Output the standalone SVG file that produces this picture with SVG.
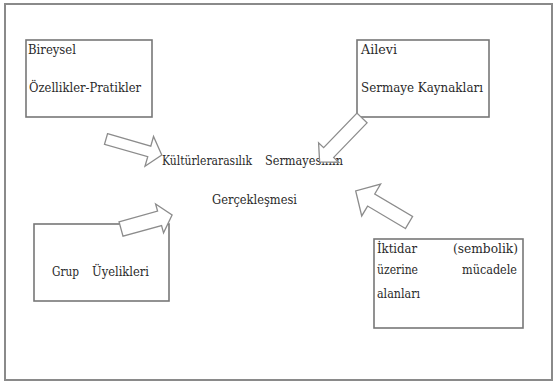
<svg xmlns="http://www.w3.org/2000/svg" width="555" height="382" viewBox="0 0 555 382">
<style>
.frame{fill:#fff;stroke:#8a8a8a;stroke-width:2}
.box{fill:#fff;stroke:#777;stroke-width:1.6}
.arrow{fill:#fff;stroke:#8c8c8c;stroke-width:1.3;stroke-linejoin:miter}
.t{font-family:'DejaVu Serif','Liberation Serif','Times New Roman',Tinos,serif;font-size:13px;fill:#2a2a2a}
</style>
<rect class="frame" x="5" y="4" width="547" height="376"/>
<g id="node-bireysel">
<rect class="box" x="26" y="40" width="126" height="77"/>
<text class="t" x="28" y="54" textLength="48" lengthAdjust="spacingAndGlyphs">Bireysel</text>
<text class="t" x="29" y="92" textLength="112" lengthAdjust="spacingAndGlyphs">Özellikler-Pratikler</text>
</g>
<g id="node-ailevi">
<rect class="box" x="357" y="40" width="132" height="77"/>
<text class="t" x="361" y="54" textLength="36" lengthAdjust="spacingAndGlyphs">Ailevi</text>
<text class="t" x="361" y="92" textLength="122" lengthAdjust="spacingAndGlyphs">Sermaye Kaynakları</text>
</g>
<g id="node-center">
<text class="t" x="162" y="165" textLength="90" lengthAdjust="spacingAndGlyphs">Kültürlerarasılık</text>
<text class="t" x="265" y="165" textLength="78" lengthAdjust="spacingAndGlyphs">Sermayesinin</text>
<text class="t" x="212" y="204" textLength="85" lengthAdjust="spacingAndGlyphs">Gerçekleşmesi</text>
</g>
<g id="node-grup">
<rect class="box" x="34" y="224" width="135" height="77"/>
<text class="t" x="52" y="276" textLength="27" lengthAdjust="spacingAndGlyphs">Grup</text>
<text class="t" x="92" y="276" textLength="57" lengthAdjust="spacingAndGlyphs">Üyelikleri</text>
</g>
<g id="node-iktidar">
<rect class="box" x="374" y="239" width="149" height="89"/>
<text class="t" x="377" y="253" textLength="40" lengthAdjust="spacingAndGlyphs">İktidar</text>
<text class="t" x="453" y="253" textLength="65" lengthAdjust="spacingAndGlyphs">(sembolik)</text>
<text class="t" x="377" y="274" textLength="41" lengthAdjust="spacingAndGlyphs">üzerine</text>
<text class="t" x="462" y="274" textLength="55" lengthAdjust="spacingAndGlyphs">mücadele</text>
<text class="t" x="377" y="298" textLength="43" lengthAdjust="spacingAndGlyphs">alanları</text>
</g>
<g id="connectors">
<polygon class="arrow" transform="translate(106,139) rotate(16)" points="0,-5.5 45,-5.5 45,-15.5 58,0 45,15.5 45,5.5 0,5.5"/>
<polygon class="arrow" transform="translate(362,118) rotate(134)" points="0,-7 48,-7 48,-14 61,0 48,14 48,7 0,7"/>
<polygon class="arrow" transform="translate(121,229) rotate(-15.4)" points="0,-7.5 40,-7.5 40,-15 53,0 40,15 40,7.5 0,7.5"/>
<polygon class="arrow" transform="translate(409,222.5) rotate(210.7)" points="0,-7 44,-7 44,-18.5 62,0 44,18.5 44,7 0,7"/>
</g>
</svg>
